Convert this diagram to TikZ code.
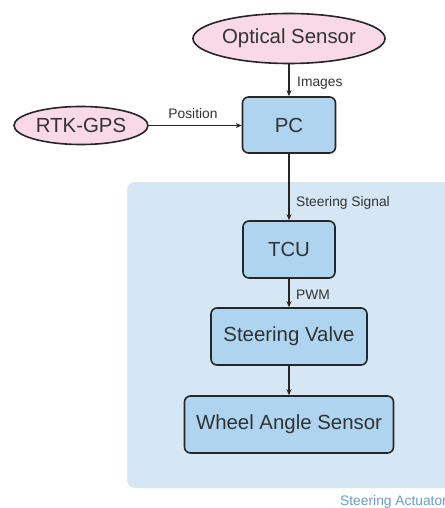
\documentclass[tikz,border=0pt]{standalone}
\usepackage{fontspec}
\setmainfont{Liberation Sans}
\usetikzlibrary{shapes.geometric,arrows.meta}
\definecolor{boxfill}{HTML}{AED4EF}
\definecolor{ellfill}{HTML}{F9D9E6}
\definecolor{bgfill}{HTML}{D5E7F5}
\definecolor{txt}{HTML}{333333}
\definecolor{captxt}{HTML}{6A9CC9}
\tikzset{
  blk/.style={draw=black!85, line width=1.6pt, rounded corners=6pt, fill=boxfill, text=txt,
    font=\fontsize{20.4}{24}\selectfont, inner sep=0pt},
  ell/.style={ellipse, draw=black!85, line width=1.6pt, fill=ellfill, text=txt,
    font=\fontsize{20.4}{24}\selectfont, inner sep=0pt},
  lbl/.style={text=txt, font=\fontsize{13.8}{16}\selectfont, inner sep=0pt},
  conn/.style={draw=black!85, line width=1.3pt, -{Stealth[length=6pt,width=5pt]}},
}
\begin{document}
\begin{tikzpicture}[x=1pt,y=-1pt]
\useasboundingbox (0,0) rectangle (444,508);
\fill[white] (0,0) rectangle (444,508);
\fill[bgfill, rounded corners=8pt] (127,182) rectangle (470,488);
\node[lbl, text=captxt, anchor=west] (cap) at (340,502) {Steering Actuator};

\node[ell, minimum width=192pt, minimum height=50pt] (opt) at (289,38.5) {Optical Sensor};
\node[ell, minimum width=134pt, minimum height=38pt] (gps) at (81,125.5) {RTK-GPS};
\node[blk, minimum width=93pt, minimum height=56pt] (pc) at (289,125) {PC};
\node[blk, minimum width=92pt, minimum height=57pt] (tcu) at (289,249.5) {TCU};
\node[blk, minimum width=156pt, minimum height=57pt] (sv) at (289,336.5) {Steering Valve};
\node[blk, minimum width=209pt, minimum height=57pt] (was) at (289,424.5) {Wheel Angle Sensor};

\draw[conn] (opt) -- (pc);
\draw[conn] (gps.east) -- (pc.west |- gps.east);
\draw[conn] (pc) -- (tcu);
\draw[conn] (tcu) -- (sv);
\draw[conn] (sv) -- (was);

\node[lbl, anchor=west] (limg) at (297,83) {Images};
\node[lbl, anchor=center] (lpos) at (193,114) {Position};
\node[lbl, anchor=west] (lss) at (296,203) {Steering Signal};
\node[lbl, anchor=west] (lpwm) at (296,295) {PWM};
\end{tikzpicture}
\end{document}
